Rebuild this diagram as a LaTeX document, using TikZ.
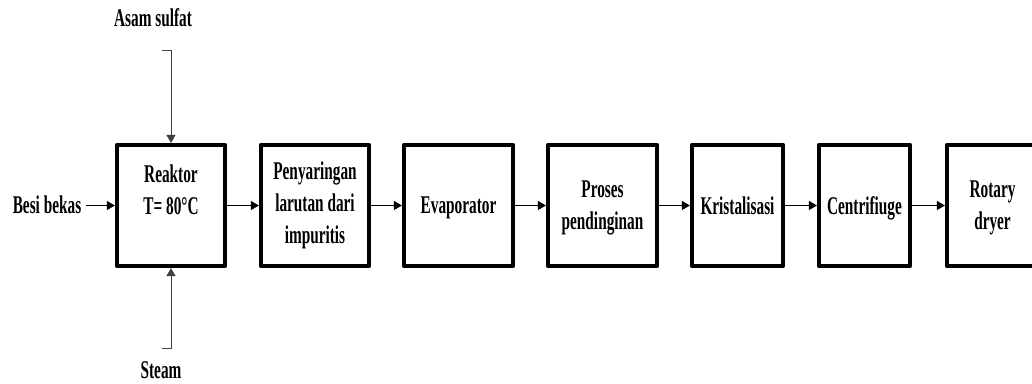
\documentclass[tikz,border=0pt]{standalone}
\usepackage{fontspec}
\setmainfont{Liberation Serif}[FakeStretch=0.6]
\usetikzlibrary{arrows.meta}
\begin{document}
\begin{tikzpicture}[x=1pt,y=-1pt,
  txt/.style={font=\bfseries\fontsize{25.5}{32}\selectfont, align=center, inner sep=2pt},
  box/.style={txt, draw, line width=4.2pt, line join=round, minimum height=121pt},
  flat/.style={text depth=0pt},
  wbox/.style={box, minimum width=108pt},
  nbox/.style={box, minimum width=91pt},
  flow/.style={line width=1.1pt, -{Triangle[length=8pt,width=9pt]}},
  feed/.style={line width=1pt, draw=black!75, -{Triangle[length=8pt,width=9pt]}}]
\useasboundingbox (0,0) rectangle (1032,383);
\node[wbox, flat] (reak) at (171,205.5) {Reaktor\\T= 80°C\\\mbox{}};
\node[wbox] (saring) at (315,205.5) {Penyaringan\\larutan dari\\impuritis};
\node[box, flat, minimum width=109pt] (evap) at (458.5,205.5) {Evaporator};
\node[box, flat, minimum width=109pt] (dingin) at (602.5,205.5) {Proses\\pendinginan};
\node[nbox, flat] (kris) at (737.5,205.5) {Kristalisasi};
\node[nbox, flat] (cent) at (864.5,205.5) {Centrifiuge};
\node[nbox, flat] (rot) at (992.5,205.5) {Rotary\\dryer};
\node[txt, anchor=base] (besi) at (47,213.5) {Besi bekas};
\node[txt, anchor=base] (asam) at (153,26.5) {Asam sulfat};
\node[txt, anchor=base] (steam) at (161,378) {Steam};
\coordinate (tA) at (162,50);
\coordinate (tB) at (171,50);
\coordinate (bA) at (162,348);
\coordinate (bB) at (171,348);
\coordinate (besiE) at (86,205.5);
\draw[feed] (tA) -- (tB) -- (reak.north);
\draw[feed] (bA) -- (bB) -- (reak.south);
\draw[flow] (besiE) -- (reak.west);
\draw[flow] (reak.east) -- (saring.west);
\draw[flow] (saring.east) -- (evap.west);
\draw[flow] (evap.east) -- (dingin.west);
\draw[flow] (dingin.east) -- (kris.west);
\draw[flow] (kris.east) -- (cent.west);
\draw[flow] (cent.east) -- (rot.west);
\end{tikzpicture}
\end{document}
